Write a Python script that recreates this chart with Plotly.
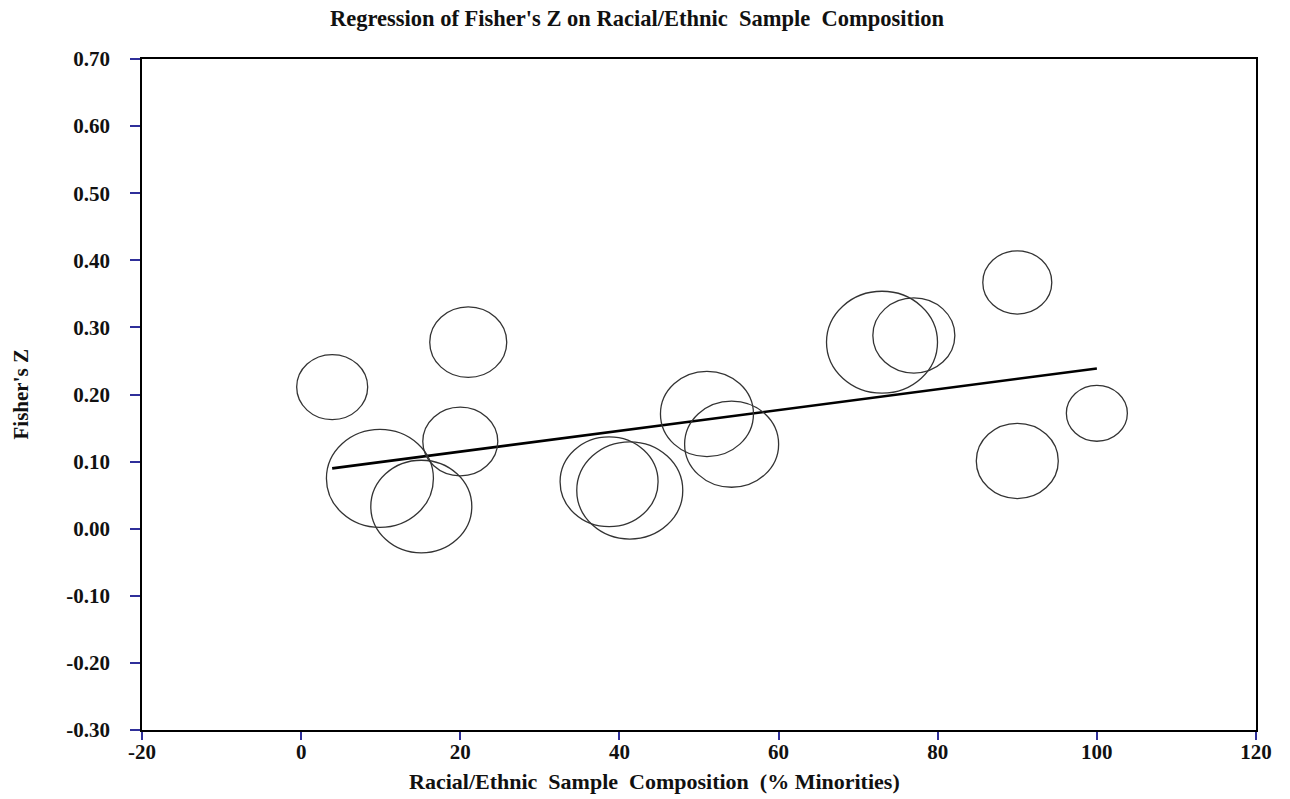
import plotly.graph_objects as go

# ---- data ----
pct_minority = [3.9, 21.0, 20.0, 9.9, 15.1, 38.7, 41.3, 51.0, 54.1, 73.0, 77.0, 90.0, 100.0, 90.0]
fisher_z = [0.211, 0.278, 0.130, 0.075, 0.033, 0.070, 0.057, 0.171, 0.126, 0.278, 0.288, 0.367, 0.172, 0.101]
study_weight = [7.1, 7.7, 7.5, 10.7, 10.1, 9.8, 10.6, 9.3, 9.4, 11.1, 8.2, 6.9, 6.1, 8.2]
reg_intercept = 0.0838
reg_slope = 0.00155

x_ticks = [-20, 0, 20, 40, 60, 80, 100, 120]
y_ticks = [0.70, 0.60, 0.50, 0.40, 0.30, 0.20, 0.10, 0.00, -0.10, -0.20, -0.30]

# ---- layout geometry ----
W, H = 1290, 799
ML, MR, MT, MB = 142, 34, 59, 69
XR = [-20, 120]
YR = [-0.30, 0.70]
px_per_x = (W - ML - MR) / (XR[1] - XR[0])
px_per_y = (H - MT - MB) / (YR[1] - YR[0])
ASPECT = 0.917  # vertical/horizontal squash of bubbles in the reference
SCALE = 10.0    # px of horizontal diameter per unit weight

FONT = "Liberation Serif"
TICK_COLOR = "#2f2f9a"

fig = go.Figure()

# bubbles as ellipses from data
shapes = []
for xv, yv, wv in zip(pct_minority, fisher_z, study_weight):
    rx = wv * SCALE / 2 / px_per_x
    ry = wv * SCALE * ASPECT / 2 / px_per_y
    shapes.append(dict(type="circle", xref="x", yref="y",
                       x0=xv - rx, x1=xv + rx, y0=yv - ry, y1=yv + ry,
                       line=dict(color="#333333", width=1.3),
                       fillcolor="rgba(0,0,0,0)", layer="above"))

# invisible centers (for hover)
fig.add_trace(go.Scatter(x=pct_minority, y=fisher_z, mode="markers",
                         marker=dict(size=1, color="rgba(0,0,0,0)"),
                         showlegend=False, hoverinfo="x+y"))

# regression line
x_line = [min(pct_minority), max(pct_minority)]
y_line = [reg_intercept + reg_slope * v for v in x_line]
fig.add_trace(go.Scatter(x=x_line, y=y_line, mode="lines",
                         line=dict(color="black", width=2.6),
                         showlegend=False, hoverinfo="skip"))

axis_common = dict(showgrid=False, zeroline=False, showline=True,
                   linecolor="black", linewidth=1.6, mirror=True,
                   ticks="outside", tickcolor=TICK_COLOR, tickwidth=1.6,
                   tickfont=dict(family=FONT, size=21, color="#111111", weight="bold"))

fig.update_xaxes(range=XR, tickvals=x_ticks, ticktext=[str(v) for v in x_ticks],
                 ticklen=8, ticklabelstandoff=-6, **axis_common)
fig.update_yaxes(range=YR, tickvals=y_ticks, ticktext=[f"{v:.2f}" for v in y_ticks],
                 ticklen=10, ticklabelstandoff=16, **axis_common)

annotations = [
    dict(text="Racial/Ethnic  Sample  Composition  (% Minorities)",
         xref="paper", yref="paper", x=(654 - ML) / (W - ML - MR), y=-(781 - (H - MB)) / (H - MT - MB),
         xanchor="center", yanchor="middle", showarrow=False,
         font=dict(family=FONT, size=22, color="#111111", weight="bold")),
    dict(text="Fisher's Z", textangle=-90,
         xref="paper", yref="paper", x=(20 - ML) / (W - ML - MR), y=0.5,
         xanchor="center", yanchor="middle", showarrow=False,
         font=dict(family=FONT, size=21, color="#111111", weight="bold")),
]

fig.update_layout(
    width=W, height=H,
    margin=dict(l=ML, r=MR, t=MT, b=MB),
    plot_bgcolor="white", paper_bgcolor="white",
    title=dict(text="Regression of Fisher's Z on Racial/Ethnic  Sample  Composition",
               x=637 / W, xref="container", xanchor="center",
               y=1 - 18 / H, yref="container", yanchor="middle",
               font=dict(family=FONT, size=22.5, color="#111111", weight="bold")),
    shapes=shapes,
    annotations=annotations,
    showlegend=False,
)

fig.write_html("out.html")
